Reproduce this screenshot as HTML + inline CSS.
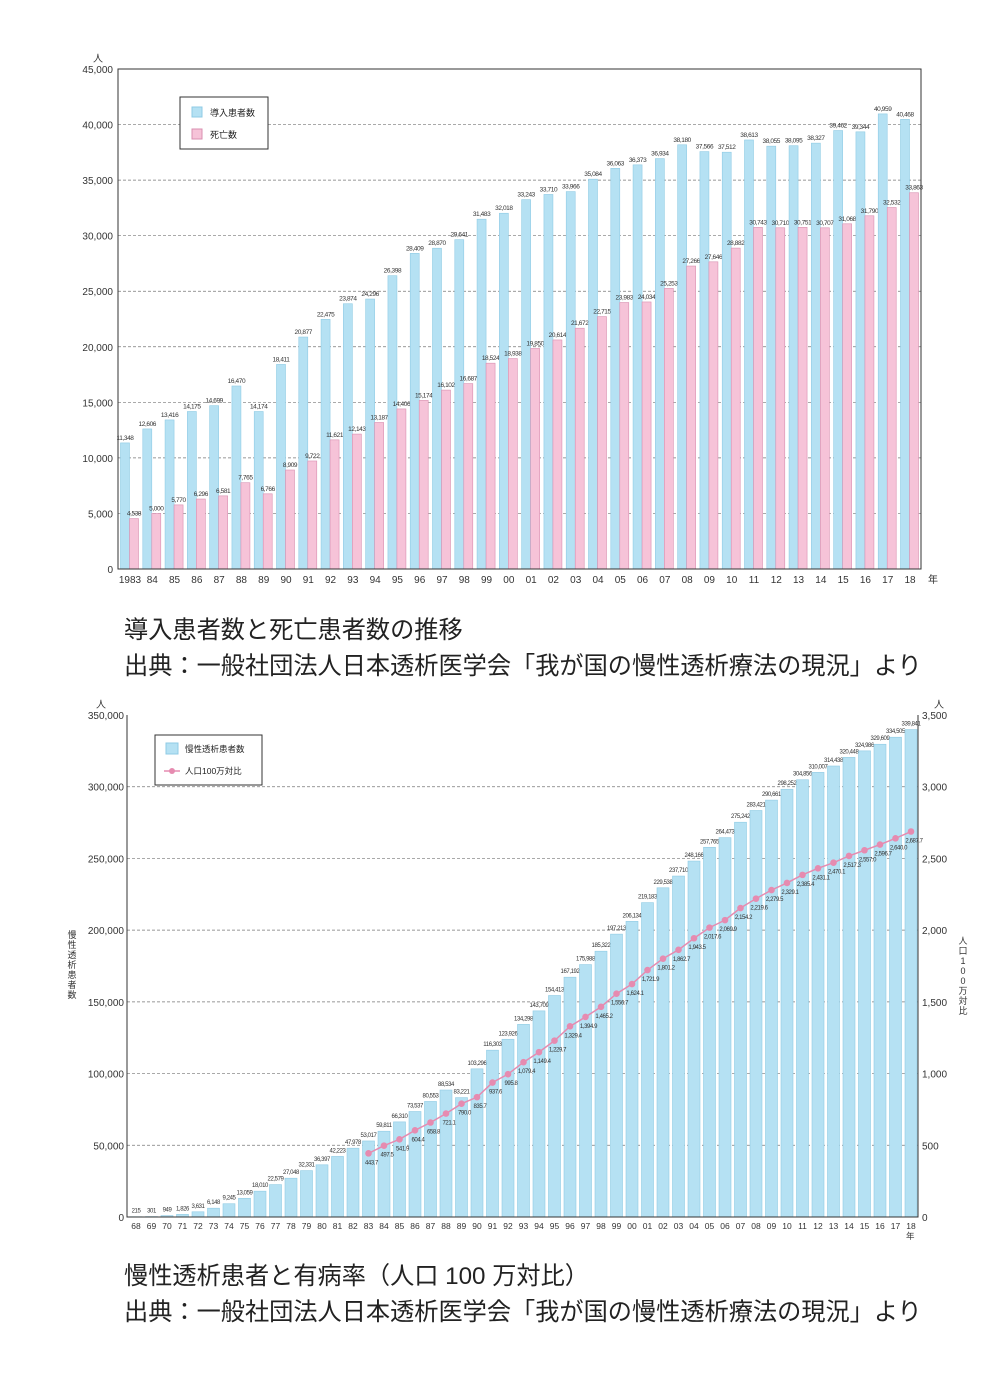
<!DOCTYPE html>
<html><head><meta charset="utf-8">
<style>
html,body{margin:0;padding:0;background:#fff;}
body{width:1000px;height:1388px;position:relative;overflow:hidden;font-family:"Liberation Sans","Noto Sans CJK JP",sans-serif;}
.cap{position:absolute;left:124px;font-size:24.2px;color:#222;font-family:"Liberation Sans","Noto Sans CJK JP",sans-serif;white-space:nowrap;}
svg text{font-family:"Liberation Sans","Noto Sans CJK JP",sans-serif;}
</style></head>
<body>
<svg id="c1" width="1000" height="600" style="position:absolute;left:0;top:0"></svg>
<div class="cap" style="top:610px">導入患者数と死亡患者数の推移</div>
<div class="cap" style="top:646px">出典：一般社団法人日本透析医学会「我が国の慢性透析療法の現況」より</div>
<svg id="c2" width="1000" height="1250" style="position:absolute;left:0;top:0"></svg>
<div class="cap" style="top:1256px">慢性透析患者と有病率（人口 100 万対比）</div>
<div class="cap" style="top:1292px">出典：一般社団法人日本透析医学会「我が国の慢性透析療法の現況」より</div>
<script>
const years1 = ["1983","84","85","86","87","88","89","90","91","92","93","94","95","96","97","98","99","00","01","02","03","04","05","06","07","08","09","10","11","12","13","14","15","16","17","18"];
const intake = [11348,12606,13416,14175,14699,16470,14174,18411,20877,22475,23874,24296,26398,28409,28870,29641,31483,32018,33243,33710,33966,35084,36063,36373,36934,38180,37566,37512,38613,38055,38095,38327,39462,39344,40959,40468];
const deaths = [4538,5000,5770,6296,6581,7765,6766,8909,9722,11621,12143,13187,14406,15174,16102,16687,18524,18938,19850,20614,21672,22715,23983,24034,25253,27266,27646,28882,30743,30710,30751,30707,31068,31790,32532,33863];
const ticks1 = [0,5000,10000,15000,20000,25000,30000,35000,40000,45000];

const years2 = ["68","69","70","71","72","73","74","75","76","77","78","79","80","81","82","83","84","85","86","87","88","89","90","91","92","93","94","95","96","97","98","99","00","01","02","03","04","05","06","07","08","09","10","11","12","13","14","15","16","17","18"];
const patients = [215,301,949,1826,3631,6148,9245,13059,18010,22579,27048,32331,36397,42223,47978,53017,59811,66310,73537,80553,88534,83221,103296,116303,123926,134298,143709,154413,167192,175988,185322,197213,206134,219183,229538,237710,248166,257765,264473,275242,283421,290661,298252,304856,310007,314438,320448,324986,329609,334505,339841];
const rateStart = "83";
const rates = [443.7,497.5,541.9,604.4,658.8,721.1,790.0,835.7,937.6,995.8,1079.4,1149.4,1229.7,1329.4,1394.9,1465.2,1556.7,1624.1,1721.9,1801.2,1862.7,1943.5,2017.6,2069.9,2154.2,2219.6,2279.5,2329.1,2385.4,2431.1,2470.1,2517.3,2557.0,2596.7,2640.0,2687.7];
const ticks2L = [0,50000,100000,150000,200000,250000,300000,350000];
const ticks2R = [0,500,1000,1500,2000,2500,3000,3500];

const NS="http://www.w3.org/2000/svg";
function mk(svg,tag,attrs,txt){const e=document.createElementNS(NS,tag);for(const k in attrs)e.setAttribute(k,attrs[k]);if(txt!==undefined)e.textContent=txt;svg.appendChild(e);return e;}
function vtext(svg,x,y0,str,size){const t=mk(svg,'text',{x:x,y:y0,'font-size':size,fill:'#333','text-anchor':'middle'});
  [...str].forEach((ch,i)=>{const sp=document.createElementNS(NS,'tspan');sp.setAttribute('x',x);sp.setAttribute('y',y0+i*(size+1));sp.textContent=ch;t.appendChild(sp);});return t;}
const fmt=v=>v.toLocaleString('en-US');

// ---- Chart 1
(function(){
const s=document.getElementById('c1');
const L=118,R=921,T=69,B=569,max=45000;
const y=v=>B-(v/max)*(B-T);
const x=i=>130+i*(910-130)/(years1.length-1);
ticks1.forEach(t=>{
  if(t>0&&t<max){const g=mk(s,'line',{x1:L,x2:R,y1:y(t),y2:y(t),stroke:'#777','stroke-dasharray':'3,2','stroke-width':0.7});
  }
  const tl=mk(s,'text',{x:113,y:y(t)+4,'text-anchor':'end','font-size':10,fill:'#333'},fmt(t));
  
});
years1.forEach((yr,i)=>{
  const cx=x(i);
  const b=mk(s,'rect',{x:cx-9.5,y:y(intake[i]),width:9,height:B-y(intake[i]),fill:'#b5e1f3',stroke:'#8fcbe4','stroke-width':0.6});
  
  const p=mk(s,'rect',{x:cx-0.5,y:y(deaths[i]),width:9,height:B-y(deaths[i]),fill:'#f6c3d8',stroke:'#d98fb0','stroke-width':0.6});
  
  const a=mk(s,'text',{x:cx-5,y:y(intake[i])-3,'text-anchor':'middle','font-size':6.5,fill:'#333','letter-spacing':-0.4},fmt(intake[i]));
  
  const d=mk(s,'text',{x:cx+4,y:y(deaths[i])-3,'text-anchor':'middle','font-size':6.5,fill:'#333','letter-spacing':-0.4},fmt(deaths[i]));
  
  const xl=mk(s,'text',{x:cx,y:583,'text-anchor':'middle','font-size':10,fill:'#333'},yr);
  
});
const fr=mk(s,'rect',{x:L,y:T,width:R-L,height:B-T,fill:'none',stroke:'#333','stroke-width':1});

const u=mk(s,'text',{x:93,y:62,'font-size':10,fill:'#333'},'人');
const n=mk(s,'text',{x:928,y:583,'font-size':10,fill:'#333'},'年');
const lg=mk(s,'rect',{x:180,y:97,width:88,height:52,fill:'#fff',stroke:'#333'});
const l1=mk(s,'rect',{x:192,y:107,width:10,height:10,fill:'#b5e1f3',stroke:'#8fcbe4'});
const l2=mk(s,'rect',{x:192,y:129,width:10,height:10,fill:'#f6c3d8',stroke:'#d98fb0'});
const t1=mk(s,'text',{x:210,y:116,'font-size':9,fill:'#222'},'導入患者数');
const t2=mk(s,'text',{x:210,y:138,'font-size':9,fill:'#222'},'死亡数');
})();

// ---- Chart 2
(function(){
const s=document.getElementById('c2');
const L=127,R=918,T=715,B=1217;
const y=v=>B-(v/350000)*(B-T);
const yr=v=>B-(v/3500)*(B-T);
const x=i=>136+i*(911-136)/(years2.length-1);
ticks2L.forEach(t=>{
  if(t>0&&t<350000){const g=mk(s,'line',{x1:L,x2:R,y1:y(t),y2:y(t),stroke:'#777','stroke-dasharray':'3,2','stroke-width':0.7});
  }
  const tl=mk(s,'text',{x:124,y:y(t)+4,'text-anchor':'end','font-size':10,fill:'#333'},fmt(t));
  
});
ticks2R.forEach(t=>{
  const tl=mk(s,'text',{x:922,y:yr(t)+4,'font-size':10,fill:'#333'},fmt(t));
  
});
years2.forEach((yv,i)=>{
  const cx=x(i);
  const b=mk(s,'rect',{x:cx-6,y:y(patients[i]),width:12,height:B-y(patients[i]),fill:'#b5e1f3',stroke:'#8fcbe4','stroke-width':0.6});
  
  const a=mk(s,'text',{x:cx,y:y(patients[i])-4,'text-anchor':'middle','font-size':6,fill:'#333','letter-spacing':-0.4},fmt(patients[i]));
  
  const xl=mk(s,'text',{x:cx,y:1229,'text-anchor':'middle','font-size':8.5,fill:'#333'},yv);
  
});
const off=years2.indexOf(rateStart);
const pts=rates.map((r,j)=>[x(off+j),yr(r)]);
const pl=mk(s,'polyline',{points:pts.map(p=>p.join(',')).join(' '),fill:'none',stroke:'#e68bb0','stroke-width':1.5});

pts.forEach((p,j)=>{
  const c=mk(s,'circle',{cx:p[0],cy:p[1],r:3.3,fill:'#e68bb0'});
  
  const t=mk(s,'text',{x:p[0]+3,y:p[1]+11,'text-anchor':'middle','font-size':6,fill:'#333','letter-spacing':-0.4},rates[j].toLocaleString('en-US',{minimumFractionDigits:1}));
  
});
const ax=mk(s,'path',{d:`M${L},${T} V${B} H${R} V${T}`,fill:'none',stroke:'#333','stroke-width':1});

const u1=mk(s,'text',{x:96,y:708,'font-size':10,fill:'#333'},'人');
const u2=mk(s,'text',{x:934,y:708,'font-size':10,fill:'#333'},'人');
const n=mk(s,'text',{x:906,y:1239,'font-size':8.5,fill:'#333'},'年');
const yt=vtext(s,72,938,'慢性透析患者数',9);

const rt=vtext(s,963,944,'人口100万対比',9);

const lg=mk(s,'rect',{x:155,y:735,width:107,height:50,fill:'#fff',stroke:'#333'});
const l1=mk(s,'rect',{x:166,y:743,width:12,height:11,fill:'#b5e1f3',stroke:'#8fcbe4'});
const l2=mk(s,'line',{x1:164,x2:180,y1:771,y2:771,stroke:'#e68bb0','stroke-width':1.5});
const l3=mk(s,'circle',{cx:172,cy:771,r:3,fill:'#e68bb0'});
const t1=mk(s,'text',{x:185,y:752,'font-size':8.5,fill:'#222'},'慢性透析患者数');
const t2=mk(s,'text',{x:185,y:774,'font-size':8.5,fill:'#222'},'人口100万対比');
})();
</script>
</body></html>
